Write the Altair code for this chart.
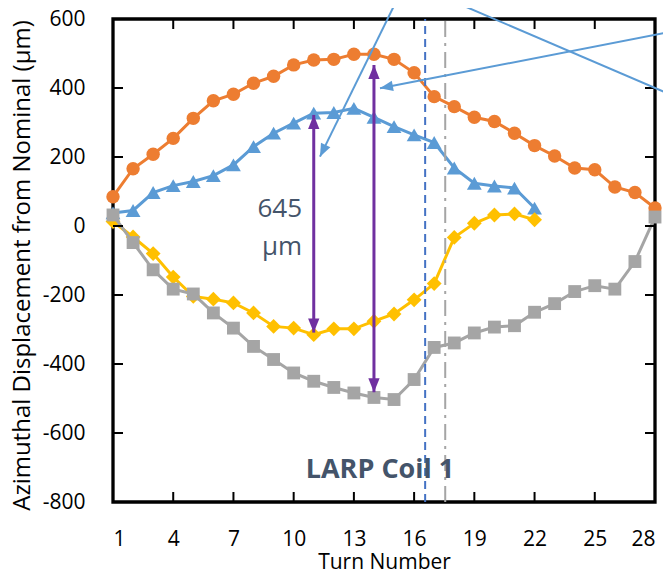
import altair as alt
import pandas as pd

# ---- data ----
turns_orange = list(range(1, 29))
orange_vals = [85, 166, 208, 254, 312, 363, 382, 414, 434, 467, 481, 483, 498, 498,
               483, 444, 375, 346, 315, 303, 269, 233, 203, 168, 163, 113, 97, 52]
turns_blue = list(range(1, 23))
blue_vals = [38, 45, 97, 117, 129, 146, 177, 230, 269, 298, 327, 329, 341, 315,
             288, 264, 242, 168, 124, 116, 110, 52]
turns_yellow = list(range(1, 23))
yellow_vals = [13, -32, -80, -148, -204, -212, -223, -252, -291, -296, -315, -298,
               -298, -276, -255, -214, -167, -33, 8, 32, 35, 18]
turns_gray = list(range(1, 29))
gray_vals = [32, -48, -127, -183, -197, -252, -296, -349, -387, -426, -450, -468,
             -484, -497, -503, -445, -352, -339, -310, -293, -289, -250, -225,
             -190, -173, -183, -103, 26]

x_ticks = [1, 4, 7, 10, 13, 16, 19, 22, 25, 28]
y_ticks = [-800, -600, -400, -200, 0, 200, 400, 600]

vline_blue_turn = [16.55]
vline_gray_turn = [17.55]

arrow_turns = [11, 14]
arrow_tops = [322, 467]
arrow_bottoms = [-309, -482]

callout_x1 = [15.14, 28.8, 17.79]
callout_y1 = [655, 563, 655]
callout_x2 = [11.31, 14.30, 28.8]
callout_y2 = [201, 399, 380]
callout_head_x = [11.31, 14.30]
callout_head_y = [201, 399]
callout_head_angle = [206, 259]

label_645 = ["645", "µm"]
label_645_turn = [10.42, 10.42]
label_645_val = [26, -83]

coil_label = ["LARP Coil 1"]
coil_turn = [14.3]
coil_val = [-729]

FONT = "Open Sans"
X_MIN, X_MAX = 1, 28
Y_MIN, Y_MAX = -800, 600

xscale = alt.Scale(domain=[X_MIN, X_MAX], nice=False, zero=False)
yscale = alt.Scale(domain=[Y_MIN, Y_MAX], nice=False, zero=False)

X = alt.X("turn:Q", scale=xscale,
          axis=alt.Axis(values=x_ticks, title="Turn Number", grid=False, ticks=False,
                        domain=False, labelFontSize=21, titleFontSize=21,
                        titleFontWeight="normal", labelPadding=26, titlePadding=2,
                        labelColor="black", titleColor="black", labelFont=FONT,
                        titleFont=FONT, labelExpr="toString(datum.value)"))
Y = alt.Y("value:Q", scale=yscale,
          axis=alt.Axis(values=y_ticks, title="Azimuthal Displacement from Nominal (µm)",
                        grid=False, ticks=False, domain=False, labelFontSize=21,
                        titleFontSize=24, titleFontWeight="normal", labelPadding=28,
                        titlePadding=8, titleY=246, labelColor="black",
                        titleColor="black", labelFont=FONT, titleFont=FONT,
                        labelExpr="toString(datum.value)"))

ARROW = "M0,0L-0.8,2L0.8,2Z"


def series(turns, vals, color, shape, size):
    df = pd.DataFrame({"turn": turns, "value": vals})
    base = alt.Chart(df).encode(x=X, y=Y)
    return base.mark_line(color=color, strokeWidth=3) + base.mark_point(
        shape=shape, filled=True, color=color, size=size, opacity=1)


orange = series(turns_orange, orange_vals, "#ED7D31", "circle", 180)
blue = series(turns_blue, blue_vals, "#5B9BD5", "triangle-up", 220)
yellow = series(turns_yellow, yellow_vals, "#FFC000", "diamond", 220)
gray = series(turns_gray, gray_vals, "#A5A5A5", "square", 165)

vblue = alt.Chart(pd.DataFrame({"turn": vline_blue_turn})).mark_rule(
    color="#4472C4", strokeWidth=2, strokeDash=[8, 5]).encode(
    x="turn:Q", y=alt.datum(Y_MIN), y2=alt.datum(Y_MAX))
vgray = alt.Chart(pd.DataFrame({"turn": vline_gray_turn})).mark_rule(
    color="#A5A5A5", strokeWidth=2, strokeDash=[16, 6, 3, 6]).encode(
    x="turn:Q", y=alt.datum(Y_MIN), y2=alt.datum(Y_MAX))

# purple double arrows
arr_df = pd.DataFrame({"turn": arrow_turns, "top": arrow_tops, "bot": arrow_bottoms})
arr_shaft = alt.Chart(arr_df).mark_rule(color="#7030A0", strokeWidth=3).encode(
    x="turn:Q", y="top:Q", y2="bot:Q")
arr_top = alt.Chart(arr_df).mark_point(shape=ARROW, filled=True, color="#7030A0",
                                       size=200, opacity=1, angle=0).encode(
    x="turn:Q", y="top:Q")
arr_bot = alt.Chart(arr_df).mark_point(shape=ARROW, filled=True, color="#7030A0",
                                       size=200, opacity=1, angle=180).encode(
    x="turn:Q", y="bot:Q")

# callout lines
call_df = pd.DataFrame({"x1": callout_x1, "y1": callout_y1,
                        "x2": callout_x2, "y2": callout_y2})
call_lines = alt.Chart(call_df).mark_rule(color="#5B9BD5", strokeWidth=2).encode(
    x="x1:Q", y="y1:Q", x2="x2:Q", y2="y2:Q")
head_df = pd.DataFrame({"turn": callout_head_x, "value": callout_head_y,
                        "ang": callout_head_angle})
call_heads = alt.Chart(head_df).mark_point(shape=ARROW, filled=True, color="#5B9BD5",
                                           size=170, opacity=1).encode(
    x="turn:Q", y="value:Q",
    angle=alt.Angle("ang:Q", scale=alt.Scale(domain=[0, 360], range=[0, 360])))

# text annotations
t645 = alt.Chart(pd.DataFrame({"turn": label_645_turn, "value": label_645_val,
                               "txt": label_645})).mark_text(
    align="right", baseline="alphabetic", font=FONT, fontSize=26,
    color="#44546A").encode(x="turn:Q", y="value:Q", text="txt:N")
tcoil = alt.Chart(pd.DataFrame({"turn": coil_turn, "value": coil_val,
                                "txt": coil_label})).mark_text(
    align="center", baseline="alphabetic", font=FONT, fontSize=27, fontWeight="bold",
    color="#44546A").encode(x="turn:Q", y="value:Q", text="txt:N")

# inward tick marks on all four sides
xt_df = pd.DataFrame({"turn": x_ticks})
yt_df = pd.DataFrame({"value": y_ticks})
tick_bottom = alt.Chart(xt_df).mark_rule(color="black", strokeWidth=2, y2Offset=-10).encode(
    x="turn:Q", y=alt.datum(Y_MIN), y2=alt.datum(Y_MIN))
tick_top = alt.Chart(xt_df).mark_rule(color="black", strokeWidth=2, y2Offset=10).encode(
    x="turn:Q", y=alt.datum(Y_MAX), y2=alt.datum(Y_MAX))
tick_left = alt.Chart(yt_df).mark_rule(color="black", strokeWidth=2, x2Offset=10).encode(
    y="value:Q", x=alt.datum(X_MIN), x2=alt.datum(X_MIN))
tick_right = alt.Chart(yt_df).mark_rule(color="black", strokeWidth=2, x2Offset=-10).encode(
    y="value:Q", x=alt.datum(X_MAX), x2=alt.datum(X_MAX))

chart = alt.layer(
    orange, blue, yellow, gray, vblue, vgray,
    tick_bottom, tick_top, tick_left, tick_right,
    arr_shaft, arr_top, arr_bot, call_lines, call_heads, t645, tcoil
).properties(
    width=542, height=483,
    autosize=alt.AutoSizeParams(type="none"),
    padding={"left": 105, "top": 11, "right": 8, "bottom": 68},
    background="white",
).configure_view(stroke="black", strokeWidth=3.3)

chart.save("out.html", embed_options={"renderer": "svg", "actions": False})
